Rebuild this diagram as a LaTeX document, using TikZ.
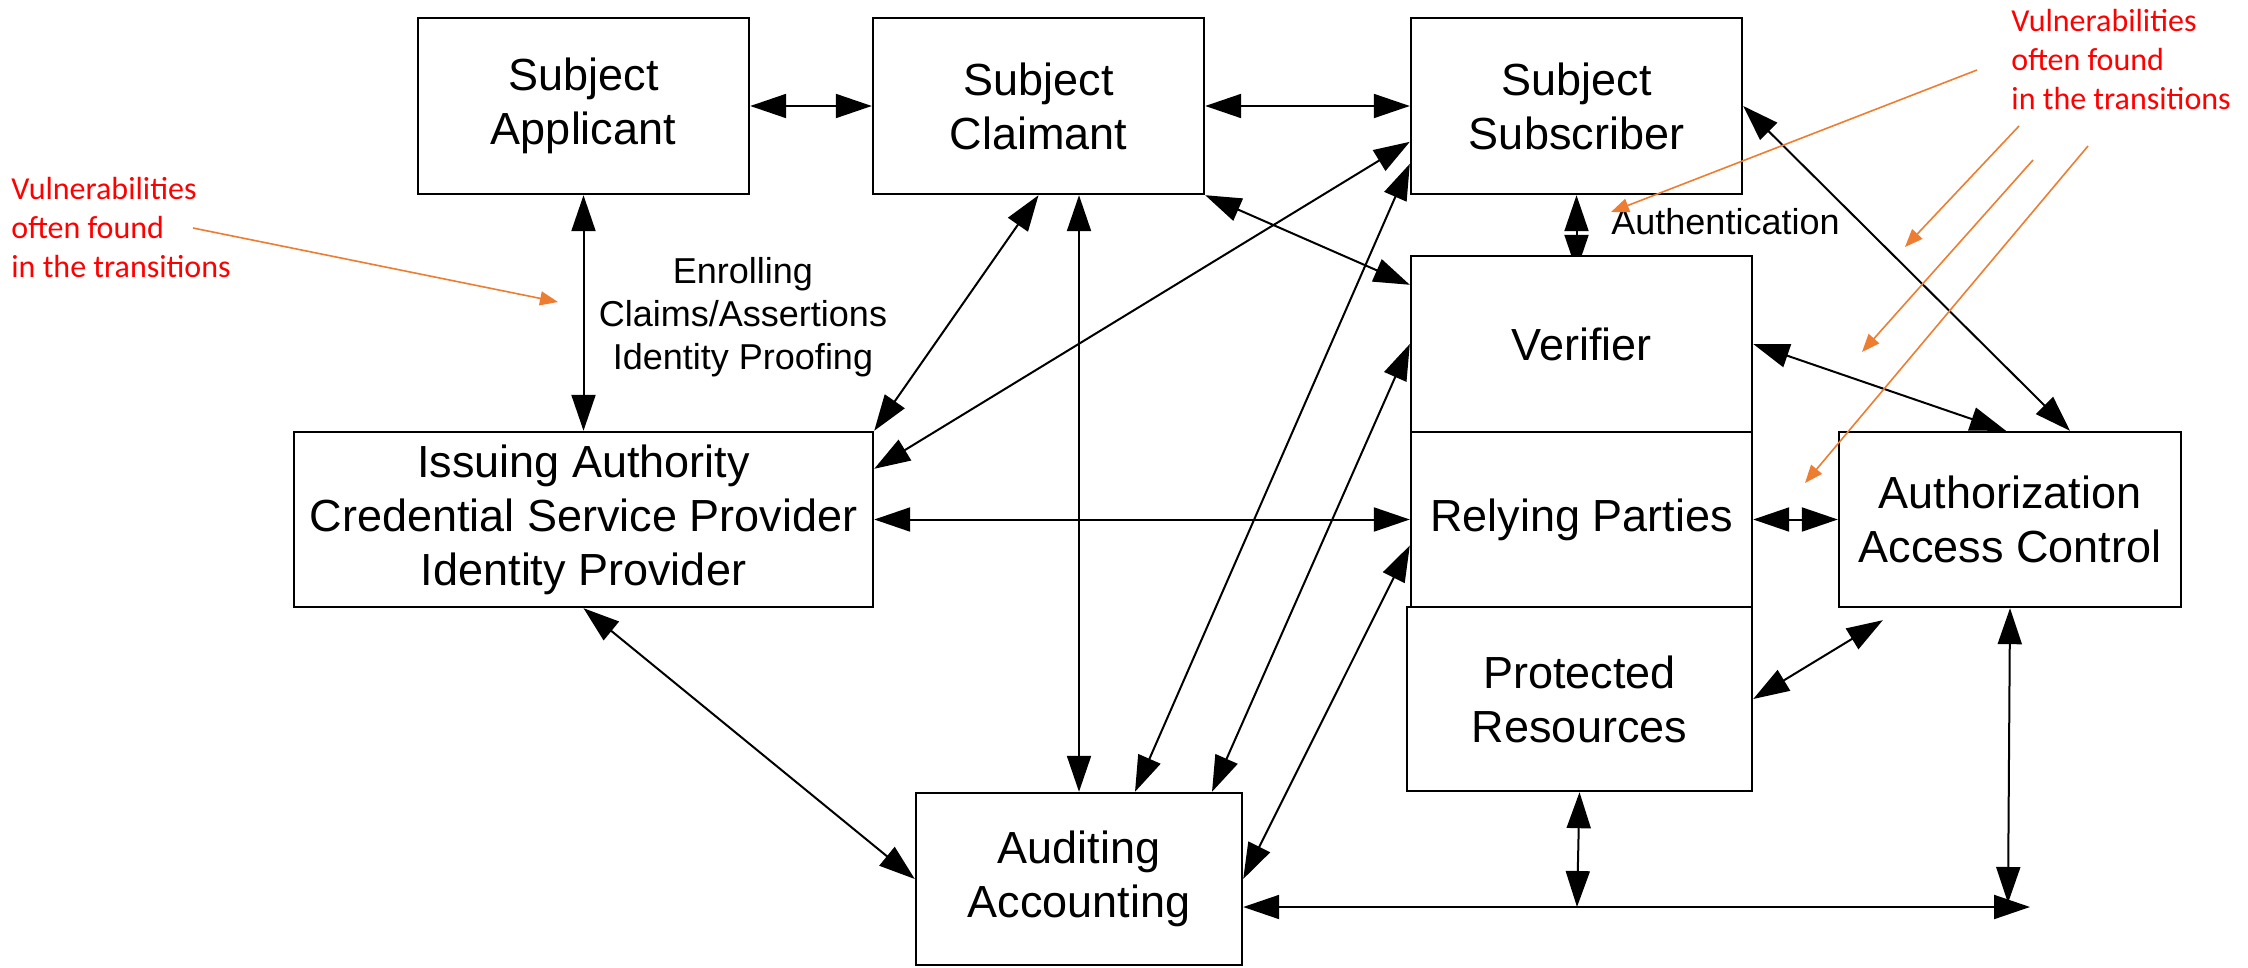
\documentclass[tikz,border=0pt]{standalone}
\usepackage{fontspec}
\setmainfont{Liberation Sans}
\newfontfamily\calibfont{Carlito}
\usetikzlibrary{arrows.meta,calc}
\definecolor{annot}{RGB}{237,125,49}
\definecolor{vred}{RGB}{255,0,0}
\begin{document}
\begin{tikzpicture}[x=0.5pt,y=-0.5pt,
  box/.style={draw=black, line width=1.2pt, inner sep=0pt, align=center,
    font=\fontsize{22.5}{27}\selectfont},
  link/.style={line width=1pt, {Triangle[length=18pt,width=12pt]}-{Triangle[length=18pt,width=12pt]}},
  lbl/.style={inner sep=0pt, align=center, font=\fontsize{18}{21.6}\selectfont},
  redtext/.style={inner sep=0pt, align=left, text=vred, font=\calibfont\fontsize{16}{19.4}\selectfont},
  annarrow/.style={draw=annot, line width=0.8pt, -{Triangle[length=9pt,width=7pt]}}]
\useasboundingbox (0,0) rectangle (2248,968);

% boxes
\node[box, minimum width=165.5pt, minimum height=88pt] (app) at (583.5,106) {Subject\\Applicant};
\node[box, minimum width=165.5pt, minimum height=88pt] (cla) at (1038.5,106) {Subject\\Claimant};
\node[box, minimum width=165.5pt, minimum height=88pt] (sub) at (1576.5,106) {Subject\\Subscriber};
\node[box, minimum width=170.5pt, minimum height=88pt] (ver) at (1581.5,344) {Verifier};
\node[box, minimum width=170.5pt, minimum height=87.5pt] (rel) at (1581.5,519.5) {Relying Parties};
\node[box, minimum width=172.5pt, minimum height=92pt] (pro) at (1579.5,699) {Protected\\Resources};
\node[box, minimum width=171pt, minimum height=87.5pt] (aut) at (2010,519.5) {Authorization\\Access Control};
\node[box, minimum width=289.5pt, minimum height=87.5pt] (iss) at (583.5,519.5) {Issuing Authority\\Credential Service Provider\\Identity Provider};
\node[box, minimum width=163pt, minimum height=86pt] (aud) at (1079,879) {Auditing\\Accounting};

% labels
\node[lbl] (enr) at (743,317) {Enrolling\\Claims/Assertions\\Identity Proofing};
\node[lbl, anchor=west] (authn) at (1611,222) {Authentication};

% connectors
\draw[link] (app.east) -- (cla.west);
\draw[link] (cla.east) -- (sub.west);
\draw[link] (app.south) -- (iss.north);
\begin{scope}
  \clip (sub.south west) rectangle (ver.north east);
  \draw[link] (sub.south) -- ([yshift=-8pt]sub.south |- ver.north);
\end{scope}
\draw[link] (aud.north |- cla.south) -- (aud.north);
\draw[link] (cla.south) -- (iss.north east);
\draw[link] (cla.south east) -- ([yshift=-15pt]ver.north west);
\draw[link] ([yshift=-19pt]iss.north east) -- ([yshift=-62.5pt]sub.north west);
\draw[link] (iss.east) -- (rel.west);
\draw[link] (rel.east) -- (aut.west);
\draw[link] (sub.east) -- ([xshift=30pt]aut.north);
\draw[link] (ver.east) -- ([xshift=-2pt]aut.north);
\draw[link] (pro.east) -- ([xshift=22.5pt,yshift=-6pt]aut.south west);
\draw[link] (iss.south) -- (aud.west);
\draw[link] ([xshift=28pt]aud.north) -- ([yshift=-73.5pt]sub.north west);
\draw[link] ([xshift=66.5pt]aud.north) -- (ver.west);
\draw[link] (aud.east) -- ([yshift=-13pt]rel.west);

\coordinate (pj) at (1577,907);
\coordinate (aj) at (2008,903);
\coordinate (hend) at (2030,907);
\draw[link] ([yshift=-14pt]aud.east) -- (hend);
\draw[link] (pro.south) -- (pj);
\draw[link] (aut.south) -- (aj);

% annotations
\node[redtext, anchor=north west] (lnote) at (11,177) {Vulnerabilities\\often found\\in the transitions};
\node[redtext, anchor=north west] (rnote) at (2011,9) {Vulnerabilities\\often found\\in the transitions};

\coordinate (la) at (193,228);  \coordinate (lb) at (558,302);
\coordinate (r1a) at (1977,70); \coordinate (r1b) at (1611,212);
\coordinate (r2a) at (2019,126); \coordinate (r2b) at (1905,247);
\coordinate (r3a) at (2033,160); \coordinate (r3b) at (1862,352);
\coordinate (r4a) at (2088,146); \coordinate (r4b) at (1805,483);
\draw[annarrow] (la) -- (lb);
\draw[annarrow] (r1a) -- (r1b);
\draw[annarrow] (r2a) -- (r2b);
\draw[annarrow] (r3a) -- (r3b);
\draw[annarrow] (r4a) -- (r4b);
\end{tikzpicture}
\end{document}
